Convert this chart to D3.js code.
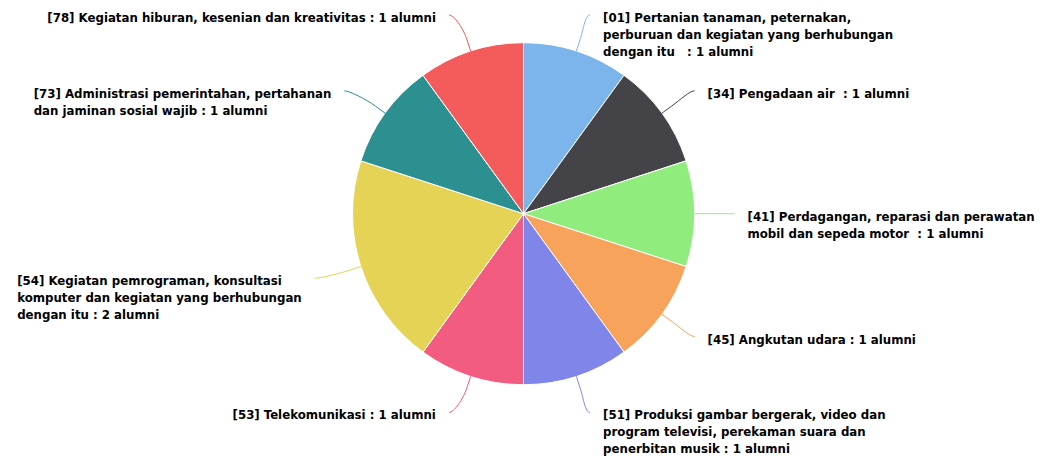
<!DOCTYPE html>
<html>
<head>
<meta charset="utf-8">
<script src="https://cdn.jsdelivr.net/npm/d3@7"></script>
<style>
  body { margin: 0; background: #fff; }
  .lbl { font-family: "DejaVu Sans Condensed", "DejaVu Sans", sans-serif; font-stretch: condensed; font-weight: bold; font-size: 13.1px; fill: #000; white-space: pre; }
</style>
</head>
<body>
<svg class="svg-main" width="1055" height="461"></svg>
<script>
const codes = ["01", "34", "41", "45", "51", "53", "54", "73", "78"];
const values = [1, 1, 1, 1, 1, 1, 2, 1, 1];
const colors = ["#7cb5ec", "#434348", "#90ed7d", "#f7a35c", "#8085e9", "#f15c80", "#e4d354", "#2b908f", "#f45b5b"];
const labelLines = [
  ["[01] Pertanian tanaman, peternakan,", "perburuan dan kegiatan yang berhubungan", "dengan itu   : 1 alumni"],
  ["[34] Pengadaan air  : 1 alumni"],
  ["[41] Perdagangan, reparasi dan perawatan", "mobil dan sepeda motor  : 1 alumni"],
  ["[45] Angkutan udara : 1 alumni"],
  ["[51] Produksi gambar bergerak, video dan", "program televisi, perekaman suara dan", "penerbitan musik : 1 alumni"],
  ["[53] Telekomunikasi : 1 alumni"],
  ["[54] Kegiatan pemrograman, konsultasi", "komputer dan kegiatan yang berhubungan", "dengan itu : 2 alumni"],
  ["[73] Administrasi pemerintahan, pertahanan", "dan jaminan sosial wajib : 1 alumni"],
  ["[78] Kegiatan hiburan, kesenian dan kreativitas : 1 alumni"]
];

const svg = d3.select(".svg-main");
const cx = 523.5, cy = 213.7, radius = 171;
const labelRadius = radius + 38;
const lineHeight = 17;

const data = codes.map((c, i) => ({ code: c, value: values[i], color: colors[i], lines: labelLines[i] }));

const pie = d3.pie().sort(null).value(d => d.value);
const arcs = pie(data);
const arc = d3.arc().innerRadius(0).outerRadius(radius);

const g = svg.append("g").attr("transform", `translate(${cx},${cy})`);

g.selectAll("path.slice")
  .data(arcs)
  .enter().append("path")
    .attr("class", "slice")
    .attr("d", arc)
    .attr("fill", d => d.data.color)
    .attr("stroke", "#fff")
    .attr("stroke-width", 1);

function polar(a, r) {
  return [Math.sin(a) * r, -Math.cos(a) * r];
}

arcs.forEach(d => {
  const mid = (d.startAngle + d.endAngle) / 2;
  const side = Math.sin(mid) >= 0 ? 1 : -1;
  const touch = polar(mid, radius);
  const brk = polar(mid, radius + 12);
  const y = -Math.cos(mid) * labelRadius;
  const x = side * (Math.sqrt(labelRadius * labelRadius - y * y) + (side > 0 ? 2 : 10));
  d.end = [x, y];
  d.side = side;

  const path = d3.path();
  path.moveTo(x, y);
  path.bezierCurveTo(x - side * 5, y, 2 * brk[0] - touch[0], 2 * brk[1] - touch[1], brk[0], brk[1]);
  path.lineTo(touch[0], touch[1]);

  g.append("path")
    .attr("d", path.toString())
    .attr("fill", "none")
    .attr("stroke", d.data.color)
    .attr("stroke-width", 1);
});

const labels = g.selectAll("text.lbl")
  .data(arcs)
  .enter().append("text")
    .attr("class", "lbl")
    .attr("y", d => d.end[1] + 7);

labels.each(function(d) {
  const t = d3.select(this);
  d.data.lines.forEach((line, i) => {
    t.append("tspan")
      .attr("x", 0)
      .attr("dy", i === 0 ? 0 : lineHeight)
      .text(line);
  });
  const w = this.getBBox().width;
  const x0 = d.side > 0 ? d.end[0] + 13 : d.end[0] - 13 - w;
  t.selectAll("tspan").attr("x", x0);
});
</script>
</body>
</html>
